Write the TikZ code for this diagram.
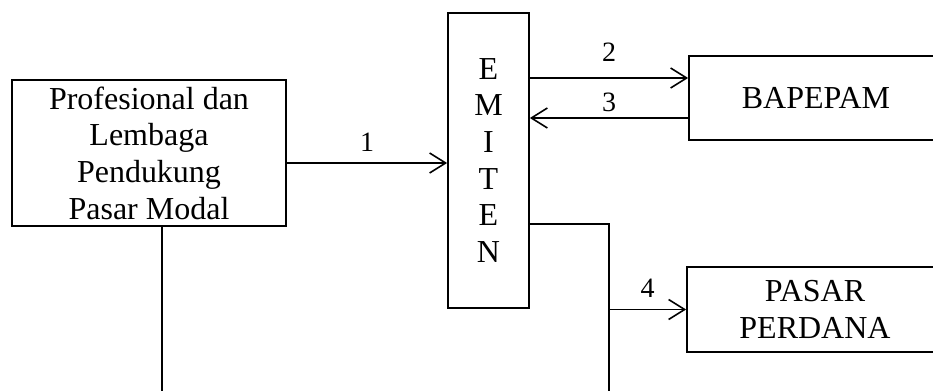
\documentclass[tikz,border=0pt]{standalone}
\usepackage{fontspec}
\setmainfont{Liberation Serif}
\usepackage{tikz}
\usetikzlibrary{arrows.meta,positioning,calc}

\begin{document}
\begin{tikzpicture}[x=0.75pt,y=-0.75pt,
   font=\fontsize{24}{27.5}\selectfont,
   box/.style={draw,line width=1.3pt,align=center,inner sep=0pt},
   link/.style={line width=1.3pt},
   flow/.style={link,-{Straight Barb[length=12pt,width=15pt,line width=1.2pt]}},
   num/.style={font=\fontsize{21}{24}\selectfont,inner sep=0pt}]
  \useasboundingbox (0,0) rectangle (933,390);
  \clip (0,0) rectangle (933,390);
  % boxes
  \node[box,minimum width=205.5pt,minimum height=109.5pt] (prof) at (149,153)
    {Profesional dan\\Lembaga\\Pendukung\\Pasar Modal};
  \node[box,minimum width=60.75pt,minimum height=221.25pt] (emiten) at (488.5,160.5)
    {E\\M\\I\\T\\E\\N};
  \node[box,minimum width=190.5pt,minimum height=63pt] (bapepam) at (816,98) {BAPEPAM};
  \node[box,minimum width=192pt,minimum height=63.75pt] (perdana) at (815,309.5)
    {PASAR\\PERDANA};
  % helper points
  \coordinate (a1) at (0,163);
  \coordinate (b2) at ([yshift=15pt]bapepam.west);
  \coordinate (b3) at ([yshift=-15pt]bapepam.west);
  \coordinate (split) at (609,224);
  \coordinate (s-end) at (609,395);
  \coordinate (p-end) at (162,395);
  % connectors
  \draw[flow] (prof.east |- a1) -- node[num,above=8pt] (n1) {1} (emiten.west |- a1);
  \draw[flow] (emiten.east |- b2) -- node[num,above=12pt] (n2) {2} (b2);
  \draw[flow] (b3) -- node[num,above=4pt] (n3) {3} (emiten.east |- b3);
  \draw[link] (emiten.east |- split) -- (split) -- (s-end);
  \draw[flow] (split |- perdana.west) -- node[num,above=8.5pt] (n4) {4} (perdana.west);
  \draw[link] (prof.south -| p-end) -- (p-end);
\end{tikzpicture}
\end{document}
